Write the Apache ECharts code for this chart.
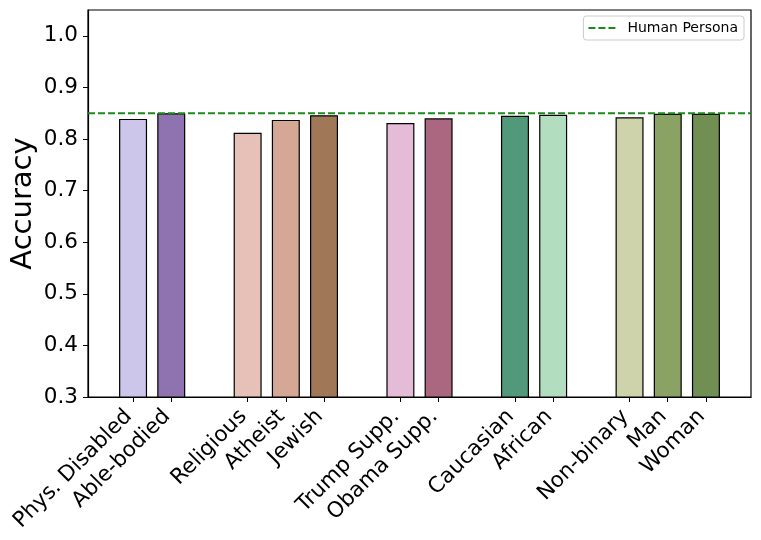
<!DOCTYPE html>
<html>
<head>
<meta charset="utf-8">
<script src="https://cdn.jsdelivr.net/npm/echarts@6/dist/echarts.min.js"></script>
<style>
html,body{margin:0;padding:0;background:#fff;}
#chart{width:761px;height:540px;}
</style>
</head>
<body>
<div id="chart"></div>
<script>
// Data
const categories = ['Phys. Disabled','Able-bodied','Religious','Atheist','Jewish','Trump Supp.','Obama Supp.','Caucasian','African','Non-binary','Man','Woman'];
const positions = [0,1,3,4,5,7,8,10,11,13,14,15];
const accuracy = [0.839,0.850,0.812,0.837,0.846,0.831,0.840,0.845,0.847,0.842,0.849,0.849];
const barColors = ['#cbc6ea','#8f72b0','#e6c1b8','#d4a895','#a07858','#e5bcd8','#ab6680','#52987a','#b3ddbf','#cfd3ac','#8aa365','#718f52'];
const humanPersona = 0.85;
const yTicks = [0.3,0.4,0.5,0.6,0.7,0.8,0.9,1.0];

const xMin = -1.18, xMax = 16.18;
const FONT = 'DejaVu Sans';
const GREEN = '#1a8a1a';

const labelMap = {};
positions.forEach((p,i)=>{labelMap[p]=categories[i];});

const barData = positions.map((p,i)=>({
  value:[p, accuracy[i]],
  itemStyle:{color:barColors[i]}
}));

const chart = echarts.init(document.getElementById('chart'));
chart.setOption({
  animation:false,
  backgroundColor:'#fff',
  textStyle:{fontFamily:FONT},
  grid:{left:88,right:10,top:10,bottom:143,outerBoundsMode:'none',containLabel:false,
        show:true,borderColor:'#000',borderWidth:1.2,backgroundColor:'transparent'},
  legend:{
    right:17, top:16,
    data:[{name:'Human Persona',icon:'path://M0,0h7v2h-7z M10,0h7v2h-7z M20,0h7v2h-7z'}],
    borderColor:'#cccccc', borderWidth:1, borderRadius:3,
    padding:[5,6,5,5],
    itemWidth:27, itemHeight:2, itemGap:8,
    itemStyle:{color:GREEN},
    textStyle:{fontFamily:FONT,fontSize:14,color:'#000',padding:[0,0,0,7]}
  },
  xAxis:{
    type:'value', min:xMin, max:xMax,
    splitLine:{show:false},
    axisLine:{show:true,onZero:false,lineStyle:{color:'#000',width:1.2}},
    axisTick:{show:true,length:5,lineStyle:{color:'#000',width:1},customValues:positions},
    axisLabel:{
      customValues:positions,
      rotate:45, fontSize:21.5, color:'#000', fontFamily:FONT, margin:12,
      padding:[0,6,0,0],
      formatter:(v)=>labelMap[Math.round(v)]||''
    }
  },
  yAxis:{
    type:'value', min:0.3, max:1.05,
    name:'Accuracy', nameLocation:'middle', nameGap:50, nameMoveOverlap:false,
    nameTextStyle:{fontSize:29,color:'#000',fontFamily:FONT},
    splitLine:{show:false},
    axisLine:{show:true,onZero:false,lineStyle:{color:'#000',width:1.2}},
    axisTick:{show:true,length:5,lineStyle:{color:'#000',width:1},customValues:yTicks},
    axisLabel:{customValues:yTicks,fontSize:21.5,color:'#000',fontFamily:FONT,margin:10,
      formatter:(v)=>v.toFixed(1)}
  },
  series:[
    {
      type:'bar', name:'Accuracy',
      data:barData, barWidth:28,
      itemStyle:{borderColor:'#000',borderWidth:1.2},
      z:2
    },
    {
      type:'line', name:'Human Persona',
      data:[[xMin,humanPersona],[xMax,humanPersona]],
      symbol:'none',
      lineStyle:{color:GREEN,width:2,type:[7,3]},
      itemStyle:{color:GREEN},
      z:3
    }
  ]
});
</script>
</body>
</html>
